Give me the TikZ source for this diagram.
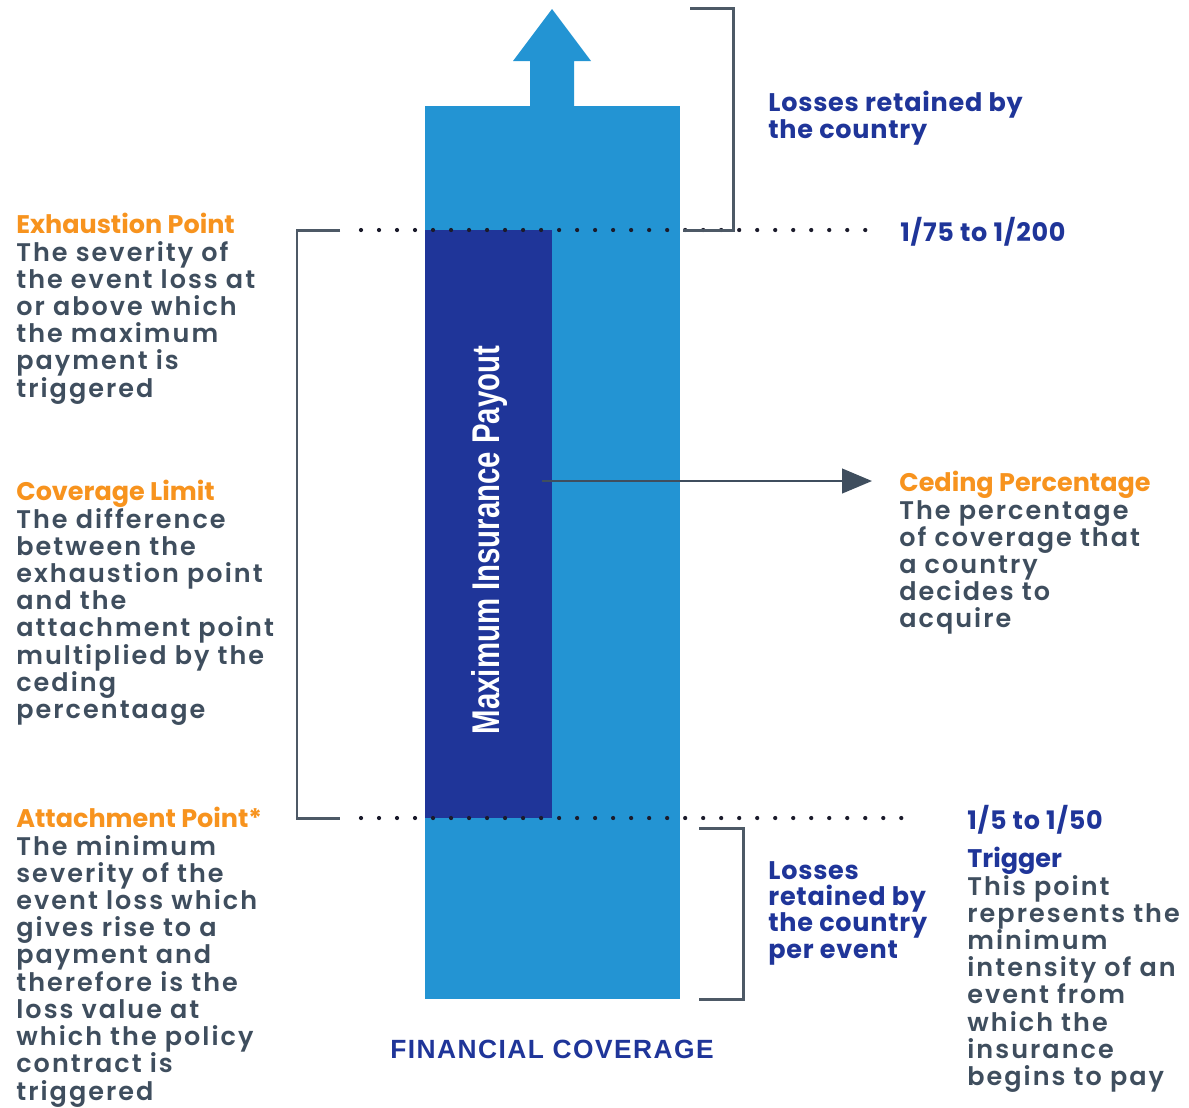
\documentclass[tikz,border=0pt]{standalone}
\usepackage{fontspec}
\setmainfont{Poppins}[BoldFont={* SemiBold}]
\newfontfamily\bodyfont{Poppins SemiBold}[LetterSpace=8]
\newfontfamily\headfont{Poppins Bold}
\newfontfamily\labelfont{Poppins Bold}[LetterSpace=3]
\newfontfamily\capsfont{Liberation Sans Bold}[LetterSpace=5.5]
\newfontfamily\narrowfont{Liberation Sans Bold}
\usetikzlibrary{arrows.meta,positioning}
\definecolor{lightblue}{HTML}{2394D3}
\definecolor{navyblue}{HTML}{1F3599}
\definecolor{greytext}{HTML}{3F4E5E}
\definecolor{headorange}{HTML}{F7931E}
\definecolor{bracketgrey}{HTML}{4D5966}
\definecolor{dotcolor}{HTML}{1B1B2B}
\newcommand{\headline}[2]{\textcolor{#1}{\headfont #2}}

\begin{document}
\begin{tikzpicture}
[x=0.02cm,y=-0.02cm,
  textdecorate/.style={anchor=north west,inner sep=0pt,align=left,
    font=\fontsize{14.5}{15.5}\selectfont\bodyfont,text=greytext},
  bluedecorate/.style={textdecorate,text=navyblue,
    font=\fontsize{14.5}{15}\selectfont\labelfont},
  bracketdecorate/.style={draw=bracketgrey,line width=1.7pt},
  dotdecorate/.style={draw=dotcolor,line width=2.4pt,line cap=round,
    dash pattern=on 0pt off 10.25pt},
  arrowdecorate/.style={draw=greytext,line width=1.2pt,
    -{Triangle[length=17pt,width=14pt]}}]
\useasboundingbox (0,0) rectangle (1189,1107);
%% coverage bar and arrow
\fill[lightblue] (425,106) rectangle (680,999);
\fill[lightblue] (530,107) -- (530,61) -- (513,61) -- (552,9) -- (591,61)
  -- (574,61) -- (574,107) -- cycle;
\fill[navyblue] (425,230) rectangle (552,818);
\node[rotate=90,text=white,inner sep=0pt] (payout) at (489,540)
  {\narrowfont\fontsize{22}{24}\selectfont
   \scalebox{0.76}[1]{Maximum Insurance Payout}};
%% corners of the brackets and ends of the lines
\foreach \pointname/\x/\y in {
  %% dotted lines
  exhl/361/230, exhr/875/230, attl/361/818, attr/903/818,
  %% brackets
  topa/690/8, topb/733/8, topc/733/230, topd/683/230,
  lefta/340/230, leftb/297/230, leftc/297/818, leftd/340/818,
  bota/699/828, botb/743/828, botc/743/999, botd/699/999,
  %% ceding arrow
  cedea/542/481, cedeb/872/481}
{
  \coordinate (\pointname) at (\x,\y);
}
\draw[dotdecorate] (exhl) -- (exhr);
\draw[dotdecorate] (attl) -- (attr);
\foreach \first/\second/\third/\fourth in {topa/topb/topc/topd,
  lefta/leftb/leftc/leftd, bota/botb/botc/botd}
{
  \draw[bracketdecorate] (\first) -- (\second) -- (\third) -- (\fourth);
}
\draw[arrowdecorate] (cedea) -- (cedeb);
%% left texts
\node[textdecorate] (exhaust) at (16,213)
  {\headline{headorange}{Exhaustion Point}\\The severity of\\the event loss at\\
   or above which\\the maximum\\payment is\\triggered};
\node[textdecorate] (limit) at (16,480)
  {\headline{headorange}{Coverage Limit}\\The difference\\between the\\
   exhaustion point\\and the\\attachment point\\multiplied by the\\ceding\\
   percentaage};
\node[textdecorate] (attach) at (16,807)
  {\headline{headorange}{Attachment Point*}\\The minimum\\severity of the\\
   event loss which\\gives rise to a\\payment and\\therefore is the\\
   loss value at\\which the policy\\contract is\\triggered};
%% right texts
\node[bluedecorate] (losstop) at (768,91) {Losses retained by\\the country};
\node[bluedecorate] (upper) at (900,217) {1/75 to 1/200};
\node[textdecorate] (ceding) at (899,471)
  {\headline{headorange}{Ceding Percentage}\\The percentage\\of coverage that\\
   a country\\decides to\\acquire};
\node[bluedecorate] (lower) at (967,805) {1/5 to 1/50};
\node[textdecorate] (trigger) at (967,847)
  {\headline{navyblue}{Trigger}\\This point\\represents the\\minimum\\
   intensity of an\\event from\\which the\\insurance\\begins to pay};
\node[bluedecorate] (lossbot) at (768,861)
  {Losses\\retained by\\the country\\per event};
\node[anchor=center,inner sep=0pt,text=navyblue] (financial) at (552,1049)
  {\capsfont\fontsize{15}{18}\selectfont FINANCIAL COVERAGE};
\end{tikzpicture}
\end{document}
